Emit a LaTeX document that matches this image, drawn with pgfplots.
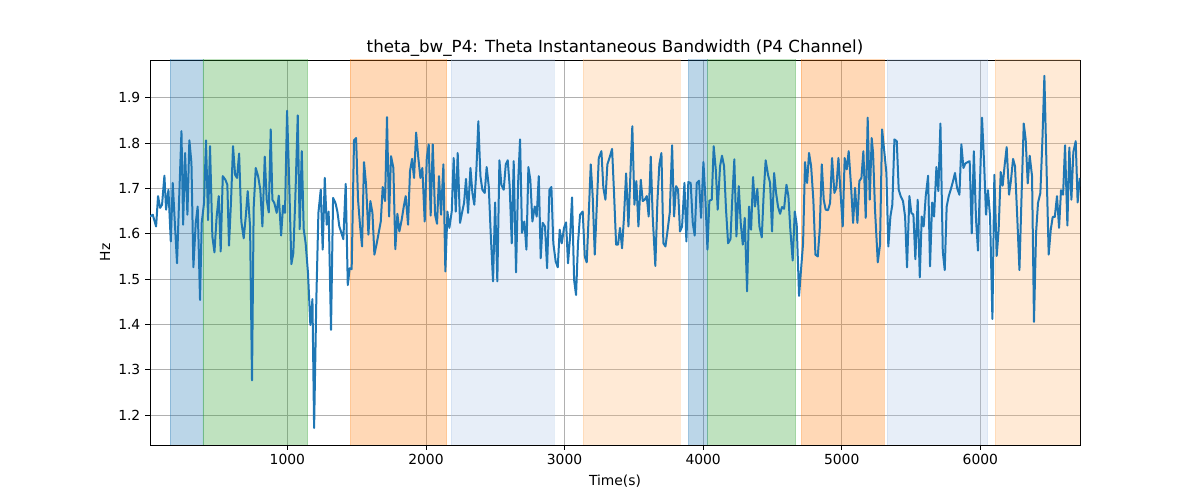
\documentclass[border=0pt]{standalone}
\usepackage{fontspec}
\setmainfont{DejaVu Sans}
\usepackage{pgfplots}
\usepackage{pgfplotstable}
\pgfplotsset{compat=1.18}
\definecolor{tabblue}{HTML}{1F77B4}
\definecolor{tablblue}{HTML}{AEC7E8}
\definecolor{taborange}{HTML}{FF7F0E}
\definecolor{tablorange}{HTML}{FFBB78}
\definecolor{tabgreen}{HTML}{2CA02C}
\definecolor{gridgray}{HTML}{B0B0B0}
\pgfplotstableread{
x y
9 1.638
29 1.642
53 1.616
67 1.683
82 1.657
96 1.664
113 1.728
125 1.653
142 1.697
159 1.583
173 1.712
187 1.631
204 1.535
219 1.675
236 1.826
248 1.620
262 1.778
279 1.642
293 1.806
308 1.756
322 1.526
339 1.624
353 1.660
370 1.454
382 1.624
399 1.668
413 1.806
428 1.630
442 1.793
459 1.594
474 1.559
490 1.638
505 1.683
519 1.561
534 1.727
553 1.719
567 1.708
579 1.574
594 1.675
608 1.793
623 1.730
637 1.723
652 1.777
668 1.627
685 1.590
700 1.638
714 1.694
731 1.616
745 1.277
757 1.657
772 1.745
789 1.727
805 1.697
820 1.616
837 1.770
851 1.675
866 1.647
880 1.830
892 1.675
906 1.668
923 1.646
938 1.684
955 1.596
969 1.662
983 1.646
998 1.871
1012 1.727
1029 1.533
1043 1.557
1058 1.683
1075 1.861
1089 1.610
1104 1.782
1118 1.610
1132 1.579
1149 1.513
1166 1.399
1181 1.456
1193 1.172
1209 1.454
1224 1.646
1241 1.697
1255 1.565
1270 1.723
1284 1.620
1298 1.649
1315 1.388
1330 1.679
1347 1.668
1361 1.649
1375 1.616
1390 1.602
1404 1.588
1421 1.710
1436 1.487
1450 1.524
1464 1.522
1481 1.806
1496 1.811
1510 1.675
1525 1.616
1539 1.572
1553 1.758
1568 1.708
1585 1.598
1599 1.672
1614 1.646
1628 1.554
1645 1.579
1659 1.602
1674 1.627
1688 1.703
1705 1.672
1719 1.857
1734 1.638
1748 1.771
1765 1.745
1779 1.566
1794 1.644
1808 1.605
1825 1.631
1840 1.660
1854 1.683
1871 1.620
1885 1.738
1900 1.765
1914 1.723
1929 1.823
1945 1.767
1960 1.723
1974 1.745
1991 1.627
2006 1.767
2020 1.797
2034 1.640
2049 1.797
2066 1.642
2080 1.622
2094 1.727
2109 1.642
2126 1.753
2140 1.517
2155 1.649
2169 1.613
2186 1.649
2200 1.767
2215 1.649
2229 1.778
2246 1.624
2260 1.646
2275 1.668
2289 1.721
2304 1.646
2321 1.745
2335 1.690
2349 1.664
2364 1.742
2378 1.848
2393 1.727
2407 1.697
2424 1.690
2438 1.747
2453 1.705
2467 1.602
2484 1.495
2499 1.669
2515 1.495
2530 1.762
2544 1.708
2561 1.697
2576 1.753
2590 1.762
2604 1.705
2619 1.579
2633 1.760
2650 1.515
2665 1.712
2679 1.808
2693 1.602
2710 1.627
2725 1.565
2739 1.747
2753 1.719
2768 1.627
2785 1.660
2799 1.638
2814 1.727
2828 1.546
2842 1.624
2859 1.616
2874 1.524
2891 1.697
2905 1.703
2919 1.579
2936 1.539
2951 1.526
2965 1.609
2980 1.579
2996 1.613
3011 1.625
3025 1.535
3040 1.594
3054 1.680
3069 1.498
3083 1.465
3097 1.579
3112 1.642
3131 1.649
3146 1.550
3160 1.537
3174 1.638
3189 1.753
3203 1.683
3218 1.554
3232 1.657
3247 1.767
3266 1.782
3280 1.701
3295 1.675
3309 1.753
3324 1.767
3343 1.787
3357 1.690
3372 1.576
3386 1.576
3400 1.613
3415 1.568
3429 1.638
3444 1.733
3461 1.616
3475 1.730
3489 1.837
3504 1.664
3518 1.716
3533 1.616
3550 1.719
3564 1.672
3578 1.675
3593 1.683
3607 1.638
3622 1.770
3636 1.638
3655 1.529
3670 1.672
3684 1.753
3699 1.778
3713 1.579
3728 1.572
3744 1.609
3759 1.646
3776 1.795
3790 1.638
3805 1.705
3819 1.697
3833 1.605
3848 1.616
3865 1.712
3879 1.583
3893 1.714
3910 1.712
3925 1.624
3939 1.596
3954 1.712
3970 1.717
3985 1.635
4002 1.758
4016 1.679
4031 1.565
4045 1.673
4062 1.675
4076 1.793
4091 1.742
4105 1.653
4122 1.749
4136 1.772
4151 1.749
4165 1.653
4180 1.579
4197 1.588
4211 1.683
4225 1.764
4240 1.594
4257 1.705
4271 1.624
4286 1.576
4300 1.635
4317 1.473
4331 1.660
4346 1.609
4360 1.725
4374 1.660
4391 1.699
4406 1.616
4423 1.592
4437 1.690
4451 1.762
4468 1.730
4483 1.712
4497 1.605
4512 1.734
4526 1.690
4540 1.660
4555 1.644
4569 1.659
4584 1.655
4601 1.708
4615 1.683
4629 1.609
4646 1.541
4661 1.649
4675 1.620
4692 1.463
4706 1.520
4721 1.579
4735 1.758
4750 1.712
4764 1.778
4779 1.749
4795 1.675
4810 1.554
4827 1.550
4841 1.609
4856 1.753
4870 1.675
4884 1.653
4901 1.652
4916 1.668
4930 1.767
4947 1.690
4961 1.701
4976 1.767
4990 1.697
5007 1.616
5021 1.767
5036 1.742
5050 1.782
5067 1.705
5082 1.624
5096 1.701
5113 1.624
5127 1.716
5142 1.723
5156 1.782
5173 1.635
5187 1.856
5202 1.675
5216 1.811
5226 1.778
5240 1.653
5260 1.537
5276 1.576
5291 1.830
5308 1.778
5322 1.734
5336 1.572
5351 1.638
5365 1.664
5380 1.808
5397 1.804
5411 1.697
5425 1.683
5442 1.672
5457 1.638
5471 1.526
5488 1.683
5502 1.646
5517 1.642
5531 1.544
5548 1.675
5563 1.504
5577 1.638
5591 1.616
5606 1.683
5623 1.728
5637 1.528
5652 1.669
5666 1.638
5683 1.747
5697 1.694
5712 1.843
5729 1.561
5743 1.520
5757 1.660
5772 1.683
5786 1.697
5803 1.716
5817 1.734
5832 1.701
5849 1.686
5863 1.797
5878 1.745
5892 1.755
5909 1.758
5923 1.760
5938 1.601
5953 1.782
5969 1.630
5983 1.563
5998 1.719
6012 1.856
6027 1.756
6041 1.642
6055 1.696
6070 1.638
6087 1.412
6101 1.730
6118 1.551
6132 1.609
6147 1.736
6161 1.706
6176 1.753
6190 1.791
6207 1.686
6221 1.718
6236 1.765
6250 1.749
6267 1.631
6282 1.520
6298 1.690
6313 1.843
6327 1.808
6342 1.711
6356 1.772
6373 1.727
6387 1.406
6402 1.602
6416 1.668
6433 1.690
6448 1.808
6462 1.948
6479 1.727
6493 1.554
6508 1.609
6522 1.637
6537 1.637
6553 1.683
6568 1.613
6582 1.696
6597 1.686
6611 1.795
6628 1.618
6642 1.790
6657 1.675
6671 1.780
6688 1.804
6702 1.669
6717 1.723
}\datatable
\begin{document}
\fontsize{10.4pt}{12.5pt}\selectfont
\begin{tikzpicture}
\path[use as bounding box] (0,0) rectangle (900pt,375pt);
\begin{axis}[
  at={(112.5pt,41.25pt)}, anchor=south west,
  scale only axis, width=697.5pt, height=288.75pt,
  xmin=9, xmax=6719, ymin=1.1344, ymax=1.983,
  xtick={1000,2000,3000,4000,5000,6000},
  ytick={1.2,1.3,1.4,1.5,1.6,1.7,1.8,1.9},
  yticklabel style={/pgf/number format/fixed, /pgf/number format/fixed zerofill, /pgf/number format/precision=1},
  xticklabel style={/pgf/number format/set thousands separator={}},
  /pgf/number format/assume math mode=true,
  tick label style={font=\fontsize{10.4pt}{12pt}\selectfont},
  tick align=outside, major tick length=3.6pt,
  tick style={black, line width=0.6pt},
  xtick pos=bottom, ytick pos=left,
  grid=major, major grid style={gridgray, line width=0.6pt},
  axis line style={line width=0.6pt},
  title={theta\_bw\_P4: Theta Instantaneous Bandwidth (P4 Channel)},
  title style={font=\fontsize{12.5pt}{15pt}\selectfont, at={(0.5,1)}, anchor=south, yshift=-7pt},
  xlabel={Time(s)}, ylabel={Hz},
  label style={font=\fontsize{10.4pt}{12pt}\selectfont},
  xlabel style={yshift=0pt},
  ylabel style={yshift=-1pt},
]
\addplot[fill=tabblue, draw=tabblue, fill opacity=0.3, draw opacity=0.3] coordinates {(154,1) (154,2.1) (390,2.1) (390,1)} \closedcycle;
\addplot[fill=tabgreen, draw=tabgreen, fill opacity=0.3, draw opacity=0.3] coordinates {(390,1) (390,2.1) (1147,2.1) (1147,1)} \closedcycle;
\addplot[fill=taborange, draw=taborange, fill opacity=0.3, draw opacity=0.3] coordinates {(1452,1) (1452,2.1) (2150,2.1) (2150,1)} \closedcycle;
\addplot[fill=tablblue, draw=tablblue, fill opacity=0.3, draw opacity=0.3] coordinates {(2181,1) (2181,2.1) (2924,2.1) (2924,1)} \closedcycle;
\addplot[fill=tablorange, draw=tablorange, fill opacity=0.3, draw opacity=0.3] coordinates {(3134,1) (3134,2.1) (3834,2.1) (3834,1)} \closedcycle;
\addplot[fill=tabblue, draw=tabblue, fill opacity=0.3, draw opacity=0.3] coordinates {(3893,1) (3893,2.1) (4033,2.1) (4033,1)} \closedcycle;
\addplot[fill=tabgreen, draw=tabgreen, fill opacity=0.3, draw opacity=0.3] coordinates {(4033,1) (4033,2.1) (4668,2.1) (4668,1)} \closedcycle;
\addplot[fill=taborange, draw=taborange, fill opacity=0.3, draw opacity=0.3] coordinates {(4706,1) (4706,2.1) (5305,2.1) (5305,1)} \closedcycle;
\addplot[fill=tablblue, draw=tablblue, fill opacity=0.3, draw opacity=0.3] coordinates {(5327,1) (5327,2.1) (6053,2.1) (6053,1)} \closedcycle;
\addplot[fill=tablorange, draw=tablorange, fill opacity=0.3, draw opacity=0.3] coordinates {(6106,1) (6106,2.1) (6800,2.1) (6800,1)} \closedcycle;
\addplot[tabblue, line width=1.5pt, no marks, line join=round] table[x=x, y=y] {\datatable};
\end{axis}
\end{tikzpicture}
\end{document}
